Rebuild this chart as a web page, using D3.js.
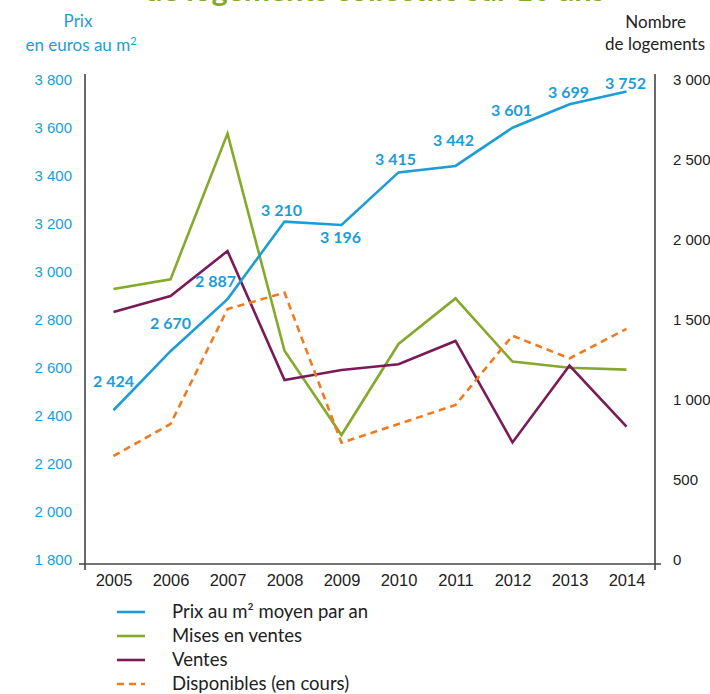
<!DOCTYPE html>
<html>
<head>
<meta charset="utf-8">
<script src="https://cdn.jsdelivr.net/npm/d3@7"></script>
<style>
  body { margin: 0; background: #fff; }
  svg { display: block; font-family: Lato, "Open Sans", sans-serif; }
</style>
</head>
<body>
<div id="container"></div>
<script>
// Chart size
const width = 710, height = 694;

// Data
const years = ["2005", "2006", "2007", "2008", "2009", "2010", "2011", "2012", "2013", "2014"];
const prix = [2424, 2670, 2887, 3210, 3196, 3415, 3442, 3601, 3699, 3752];
const misesEnVente = [1694, 1754, 2665, 1308, 781, 1350, 1635, 1240, 1202, 1190];
const ventes = [1550, 1650, 1931, 1125, 1187, 1223, 1369, 735, 1215, 833];
const disponibles = [650, 850, 1568, 1671, 733, 850, 969, 1402, 1260, 1444];
const prixTicks = [1800, 2000, 2200, 2400, 2600, 2800, 3000, 3200, 3400, 3600, 3800];
const logTicks = [0, 500, 1000, 1500, 2000, 2500, 3000];
const legendLabels = ["Prix au m² moyen par an", "Mises en ventes", "Ventes", "Disponibles (en cours)"];

// Where each price label sits relative to its point
const labelOffsets = [[0, -29], [0, -28], [-12, -18], [-3, -11], [-1, 12], [-3, -13], [-2, -26], [-1, -17], [-1, -12], [-1, -8]];

const blue = "#1d9dd6", green = "#86a92b", purple = "#7a1a58", orange = "#f07b1f";

const svg = d3.select("#container")
    .append("svg")
    .attr("width", width)
    .attr("height", height);

// Scales
const x = d3.scalePoint().domain(years).range([85, 655]).padding(0.5);
const yPrix = d3.scaleLinear().domain([1800, 3800]).range([560, 80]);
const yLog = d3.scaleLinear().domain([0, 3000]).range([560, 80]);

const fmt = d => d3.format(",")(d).replace(",", " ");

// Clipped title at the very top
svg.append("text")
    .attr("x", 375)
    .attr("y", 1)
    .attr("text-anchor", "middle")
    .attr("font-size", 30)
    .attr("font-weight", "bold")
    .attr("fill", green)
    .attr("textLength", 460)
    .attr("lengthAdjust", "spacingAndGlyphs")
    .text("de logements collectifs sur 10 ans");

// Axis titles
svg.append("g")
    .attr("font-size", 17)
    .attr("fill", blue)
    .attr("text-anchor", "middle")
    .call(g => {
        g.append("text").attr("x", 78).attr("y", 27).text("Prix");
        g.append("text").attr("x", 81).attr("y", 51)
            .call(t => {
                t.append("tspan").text("en euros au m");
                t.append("tspan").attr("dy", -6).attr("font-size", 11).text("2");
            });
    });

svg.append("g")
    .attr("font-size", 17)
    .attr("fill", "#222")
    .attr("text-anchor", "end")
    .call(g => {
        g.append("text").attr("x", 686).attr("y", 28).text("Nombre");
        g.append("text").attr("x", 705).attr("y", 50).text("de logements");
    });

// Left axis
const leftAxis = svg.append("g")
    .attr("transform", "translate(85,0)")
    .call(d3.axisLeft(yPrix).tickValues(prixTicks).tickSize(0).tickPadding(13).tickFormat(fmt));
leftAxis.select(".domain").remove();
leftAxis.selectAll("text").attr("fill", blue).attr("font-size", 15);

// Right axis
const rightAxis = svg.append("g")
    .attr("transform", "translate(655,0)")
    .call(d3.axisRight(yLog).tickValues(logTicks).tickSize(0).tickPadding(18).tickFormat(fmt));
rightAxis.select(".domain").remove();
rightAxis.selectAll("text").attr("fill", "#222").attr("font-size", 15);

// Bottom axis
const bottomAxis = svg.append("g")
    .attr("transform", "translate(0,564)")
    .call(d3.axisBottom(x).tickSize(0).tickPadding(10));
bottomAxis.select(".domain").remove();
bottomAxis.selectAll("text").attr("fill", "#222").attr("font-size", 16.5);

// Axis lines
const axisColor = "#444";
svg.append("g")
    .attr("stroke", axisColor)
    .attr("stroke-width", 1.6)
    .call(g => {
        g.append("line").attr("x1", 85).attr("x2", 85).attr("y1", 74).attr("y2", 570);
        g.append("line").attr("x1", 655).attr("x2", 655).attr("y1", 74).attr("y2", 570);
        g.append("line").attr("x1", 79).attr("x2", 661).attr("y1", 564).attr("y2", 564);
    });

// Lines
const series = [
    { values: misesEnVente, scale: yLog, color: green, dash: null },
    { values: ventes, scale: yLog, color: purple, dash: null },
    { values: disponibles, scale: yLog, color: orange, dash: "7,5" },
    { values: prix, scale: yPrix, color: blue, dash: null }
];

series.forEach(s => {
    const line = d3.line()
        .x((d, i) => x(years[i]))
        .y(d => s.scale(d));
    svg.append("path")
        .datum(s.values)
        .attr("d", line)
        .attr("fill", "none")
        .attr("stroke", s.color)
        .attr("stroke-width", 2.6)
        .attr("stroke-dasharray", s.dash);
});

// Price labels
svg.append("g")
    .attr("font-size", 16)
    .attr("font-weight", "bold")
    .attr("fill", blue)
    .attr("text-anchor", "middle")
    .selectAll("text")
    .data(prix)
    .enter()
    .append("text")
    .attr("x", (d, i) => x(years[i]) + labelOffsets[i][0])
    .attr("y", (d, i) => yPrix(d) + labelOffsets[i][1])
    .attr("dy", "0.35em")
    .text(fmt);

// Legend
const legendColors = [blue, green, purple, orange];
const legend = svg.append("g")
    .attr("transform", "translate(117,612)")
    .selectAll("g")
    .data(legendLabels)
    .enter()
    .append("g")
    .attr("transform", (d, i) => `translate(0,${i * 24})`);

legend.append("line")
    .attr("x1", 0)
    .attr("x2", 28)
    .attr("stroke", (d, i) => legendColors[i])
    .attr("stroke-width", 2.6)
    .attr("stroke-dasharray", (d, i) => i === 3 ? "7,5" : null);

legend.append("text")
    .attr("x", 55)
    .attr("dy", "0.35em")
    .attr("font-size", 18.5)
    .attr("fill", "#222")
    .text(d => d);
</script>
</body>
</html>
